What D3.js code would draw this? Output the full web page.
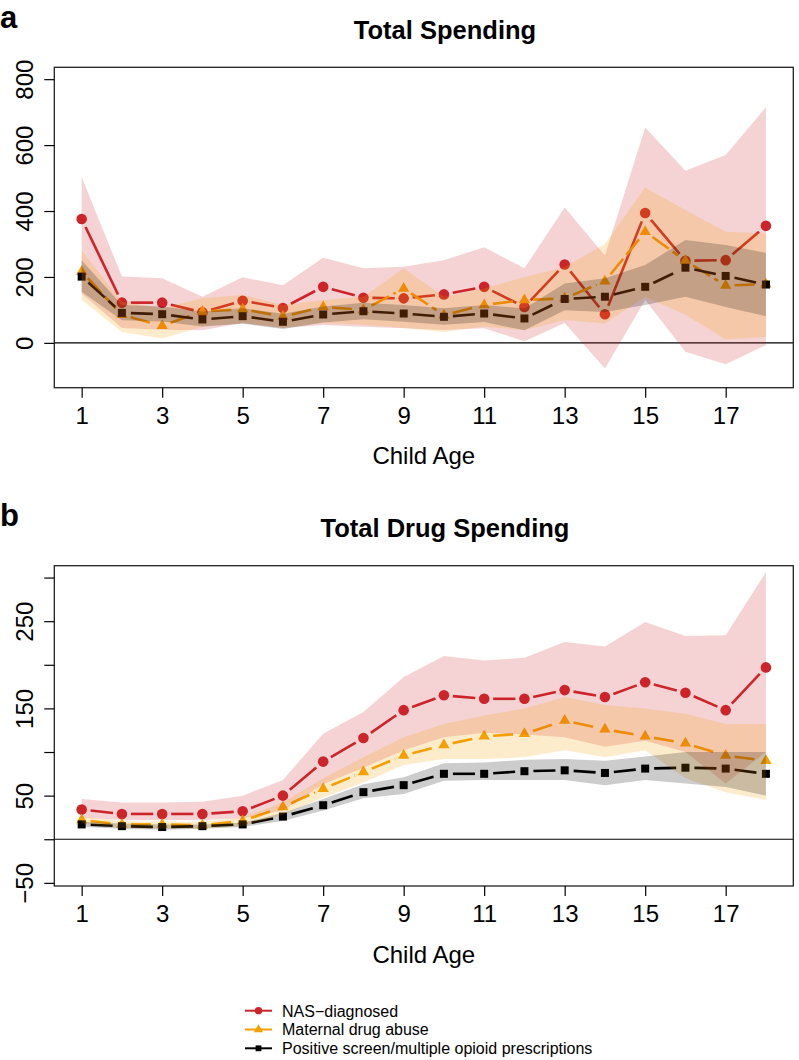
<!DOCTYPE html>
<html>
<head>
<meta charset="utf-8">
<script src="https://cdn.jsdelivr.net/npm/d3@7"></script>
<style>
  body { margin: 0; background: #fff; }
  svg { display: block; font-family: "Liberation Sans", Arial, Helvetica, sans-serif; }
</style>
</head>
<body>
<div id="chart"></div>
<script>
/**
 * Data
 */
const ages = [1, 2, 3, 4, 5, 6, 7, 8, 9, 10, 11, 12, 13, 14, 15, 16, 17, 18];
const xTicks = [1, 3, 5, 7, 9, 11, 13, 15, 17];
const seriesNames = ["NAS\u2212diagnosed", "Maternal drug abuse", "Positive screen/multiple opioid prescriptions"];

// a: Total Spending
const nasA   = [376, 122, 122, 93, 128, 106, 170, 137, 135, 147, 170, 109, 238, 87, 394, 249, 251, 355];
const nasAHi = [503, 201, 196, 140, 199, 175, 258, 226, 231, 251, 290, 226, 411, 265, 653, 522, 570, 715];
const nasALo = [150, 45, 40, 38, 60, 45, 54, 49, 44, 39, 44, 5, 60, -78, 130, -27, -65, -7];
const matA   = [216, 85, 52, 95, 102, 80, 109, 100, 165, 84, 115, 130, 135, 187, 337, 249, 174, 178];
const matAHi = [280, 125, 105, 135, 145, 115, 130, 140, 226, 140, 165, 200, 230, 300, 471, 403, 337, 332];
const matALo = [130, 33, 13, 49, 60, 45, 60, 55, 45, 33, 50, 38, 69, 59, 140, 85, 10, 18];
const posA   = [201, 91, 87, 71, 81, 64, 86, 96, 89, 79, 89, 74, 133, 140, 170, 228, 203, 177];
const posAHi = [251, 115, 110, 95, 105, 88, 110, 122, 115, 105, 115, 104, 180, 196, 236, 312, 297, 273];
const posALo = [155, 69, 65, 50, 58, 42, 62, 72, 64, 55, 63, 38, 99, 94, 115, 140, 109, 81];
const yTicksA = [0, 200, 400, 600, 800];
const yLabelsA = [0, 200, 400, 600, 800];

// b: Total Drug Spending
const nasB   = [34, 29, 29, 29, 32, 50, 89, 116, 148, 165, 161, 161, 171, 163, 180, 168, 148, 197];
const nasBHi = [46, 42, 42, 43, 50, 68, 121, 146, 186, 210, 205, 208, 226, 221, 249, 233, 234, 306];
const nasBLo = [25, 22, 22, 22, 24, 33, 63, 82, 102, 117, 122, 120, 117, 106, 113, 100, 64, 100];
const matB   = [22, 17, 17, 16, 21, 37, 58, 77, 96, 108, 118, 121, 136, 126, 118, 110, 96, 90];
const matBHi = [26, 21, 20, 20, 25, 42, 70, 94, 117, 132, 142, 150, 163, 154, 150, 144, 132, 132];
const matBLo = [18, 13, 12, 12, 15, 28, 48, 65, 85, 92, 92, 94, 102, 94, 102, 70, 54, 45];
const posB   = [17, 15, 14, 15, 17, 26, 39, 54, 62, 75, 75, 78, 79, 76, 81, 82, 81, 75];
const posBHi = [20, 18, 17, 17, 19, 30, 46, 63, 71, 87, 88, 91, 92, 90, 95, 100, 100, 100];
const posBLo = [14, 12, 11, 12, 14, 21, 33, 47, 52, 67, 68, 68, 68, 62, 68, 64, 60, 50];
const yTicksB = [-50, 0, 50, 100, 150, 200, 250, 300];
const yLabelsB = [-50, 50, 150, 250];

/**
 * Basic Settings
 */
const canvasWidth = 799;
const canvasHeight = 1060;
const plotLeft = 54.3;
const plotRight = 793.3;
const gap = 9;   // gap between line and point (type = "b")

const red = "#cc2529";
const orange = "#f5a000";
const black = "#000000";

const svg = d3.select("#chart")
  .append("svg")
  .attr("width", canvasWidth)
  .attr("height", canvasHeight)
  .style("background", "#ffffff");

const xScale = d3.scaleLinear()
  .domain([0.32, 18.68])
  .range([plotLeft, plotRight]);

function segments(values, yScale) {
  const segs = [];
  for (let i = 0; i < values.length - 1; i++) {
    const x0 = xScale(ages[i]), y0 = yScale(values[i]);
    const x1 = xScale(ages[i + 1]), y1 = yScale(values[i + 1]);
    const len = Math.hypot(x1 - x0, y1 - y0);
    if (len <= 2 * gap) continue;
    const ux = (x1 - x0) / len, uy = (y1 - y0) / len;
    segs.push([x0 + ux * gap, y0 + uy * gap, x1 - ux * gap, y1 - uy * gap]);
  }
  return segs;
}

/**
 * Panel
 */
function drawPanel(cfg) {
  const yScale = d3.scaleLinear()
    .domain(cfg.yDomain)
    .range([cfg.bottom, cfg.top]);

  const g = svg.append("g");

  // zero line
  g.append("line")
    .attr("x1", plotLeft).attr("x2", plotRight)
    .attr("y1", yScale(0)).attr("y2", yScale(0))
    .attr("stroke", "#000").attr("stroke-width", 1.2);

  // lines + points
  cfg.series.forEach(function(s) {
    g.append("g")
      .selectAll("line")
      .data(segments(s.values, yScale))
      .enter()
      .append("line")
      .attr("x1", d => d[0]).attr("y1", d => d[1])
      .attr("x2", d => d[2]).attr("y2", d => d[3])
      .attr("stroke", s.color)
      .attr("stroke-width", 2.6)
      .attr("stroke-dasharray", s.dash);

    g.append("g")
      .selectAll("path")
      .data(s.values)
      .enter()
      .append("path")
      .attr("transform", (d, i) => "translate(" + xScale(ages[i]) + "," + yScale(d) + ")")
      .attr("d", d3.symbol().type(s.symbol).size(s.size))
      .attr("fill", s.color);
  });

  // confidence bands drawn on top
  const band = d3.area()
    .x((d, i) => xScale(ages[i]))
    .y0(d => yScale(d[0]))
    .y1(d => yScale(d[1]));

  cfg.series.forEach(function(s) {
    g.append("path")
      .datum(s.lo.map((v, i) => [v, s.hi[i]]))
      .attr("d", band)
      .attr("fill", s.color)
      .attr("fill-opacity", 0.2);
  });

  // box
  g.append("rect")
    .attr("x", plotLeft).attr("y", cfg.top)
    .attr("width", plotRight - plotLeft).attr("height", cfg.bottom - cfg.top)
    .attr("fill", "none")
    .attr("stroke", "#222").attr("stroke-width", 1.3);

  // x axis
  const xAxis = d3.axisBottom(xScale)
    .tickValues(xTicks)
    .tickSize(10)
    .tickPadding(9)
    .tickFormat(d3.format("d"));
  const xg = g.append("g")
    .attr("transform", "translate(0," + cfg.bottom + ")")
    .call(xAxis);
  xg.select(".domain").remove();
  xg.selectAll(".tick line").attr("stroke", "#000").attr("stroke-width", 1.2);
  xg.selectAll(".tick text")
    .attr("font-size", 24)
    .attr("font-family", "Liberation Sans, Arial, sans-serif")
    .attr("fill", "#000");

  // y axis
  const yAxis = d3.axisLeft(yScale)
    .tickValues(cfg.yTicks)
    .tickSize(10)
    .tickFormat(d => cfg.yLabels.includes(d) ? d3.format("d")(d).replace("-", "\u2212") : "");
  const yg = g.append("g")
    .attr("transform", "translate(" + plotLeft + ",0)")
    .call(yAxis);
  yg.select(".domain").remove();
  yg.selectAll(".tick line").attr("stroke", "#000").attr("stroke-width", 1.2);
  yg.selectAll(".tick text")
    .attr("font-size", 24)
    .attr("font-family", "Liberation Sans, Arial, sans-serif")
    .attr("fill", "#000")
    .attr("x", null).attr("dy", null)
    .attr("text-anchor", "middle")
    .attr("transform", "translate(-21.8,0) rotate(-90)");

  // titles
  g.append("text")
    .attr("x", 445).attr("y", cfg.top - 28.5)
    .attr("text-anchor", "middle")
    .attr("font-size", 25.5).attr("font-weight", "bold")
    .text(cfg.title);

  g.append("text")
    .attr("x", 0).attr("y", cfg.top - 39.5)
    .attr("font-size", 31).attr("font-weight", "bold")
    .text(cfg.letter);

  g.append("text")
    .attr("x", (plotLeft + plotRight) / 2).attr("y", cfg.bottom + 76.5)
    .attr("text-anchor", "middle")
    .attr("font-size", 24)
    .text("Child Age");
}

drawPanel({
  top: 67.3, bottom: 387.7,
  yDomain: [-136, 836],
  yTicks: yTicksA, yLabels: yLabelsA,
  title: "Total Spending", letter: "a",
  series: [
    { values: nasA, lo: nasALo, hi: nasAHi, color: red, symbol: d3.symbolCircle, size: 88, dash: null },
    { values: matA, lo: matALo, hi: matAHi, color: orange, symbol: d3.symbolTriangle, size: 55, dash: "20,5" },
    { values: posA, lo: posALo, hi: posAHi, color: black, symbol: d3.symbolSquare, size: 64, dash: "22,5" }
  ]
});

drawPanel({
  top: 565.7, bottom: 886,
  yDomain: [-53.6, 313.6],
  yTicks: yTicksB, yLabels: yLabelsB,
  title: "Total Drug Spending", letter: "b",
  series: [
    { values: nasB, lo: nasBLo, hi: nasBHi, color: red, symbol: d3.symbolCircle, size: 88, dash: null },
    { values: matB, lo: matBLo, hi: matBHi, color: orange, symbol: d3.symbolTriangle, size: 55, dash: "20,5" },
    { values: posB, lo: posBLo, hi: posBHi, color: black, symbol: d3.symbolSquare, size: 64, dash: "22,5" }
  ]
});

/**
 * Legend
 */
const legendColors = [red, orange, black];
const legendSymbols = [d3.symbolCircle, d3.symbolTriangle, d3.symbolSquare];
const legendSizes = [42, 36, 34];

const legend = svg.append("g")
  .attr("transform", "translate(245,1010.7)");

const rows = legend.selectAll("g")
  .data(seriesNames)
  .enter()
  .append("g")
  .attr("transform", (d, i) => "translate(0," + i * 18.8 + ")");

rows.append("line")
  .attr("x1", 0).attr("x2", 27)
  .attr("stroke", (d, i) => legendColors[i])
  .attr("stroke-width", 2);

rows.append("path")
  .attr("transform", "translate(13.5,0)")
  .attr("d", (d, i) => d3.symbol().type(legendSymbols[i]).size(legendSizes[i])())
  .attr("fill", (d, i) => legendColors[i]);

rows.append("text")
  .attr("x", 37).attr("y", 5.8)
  .attr("font-size", 16)
  .text(d => d);
</script>
</body>
</html>
